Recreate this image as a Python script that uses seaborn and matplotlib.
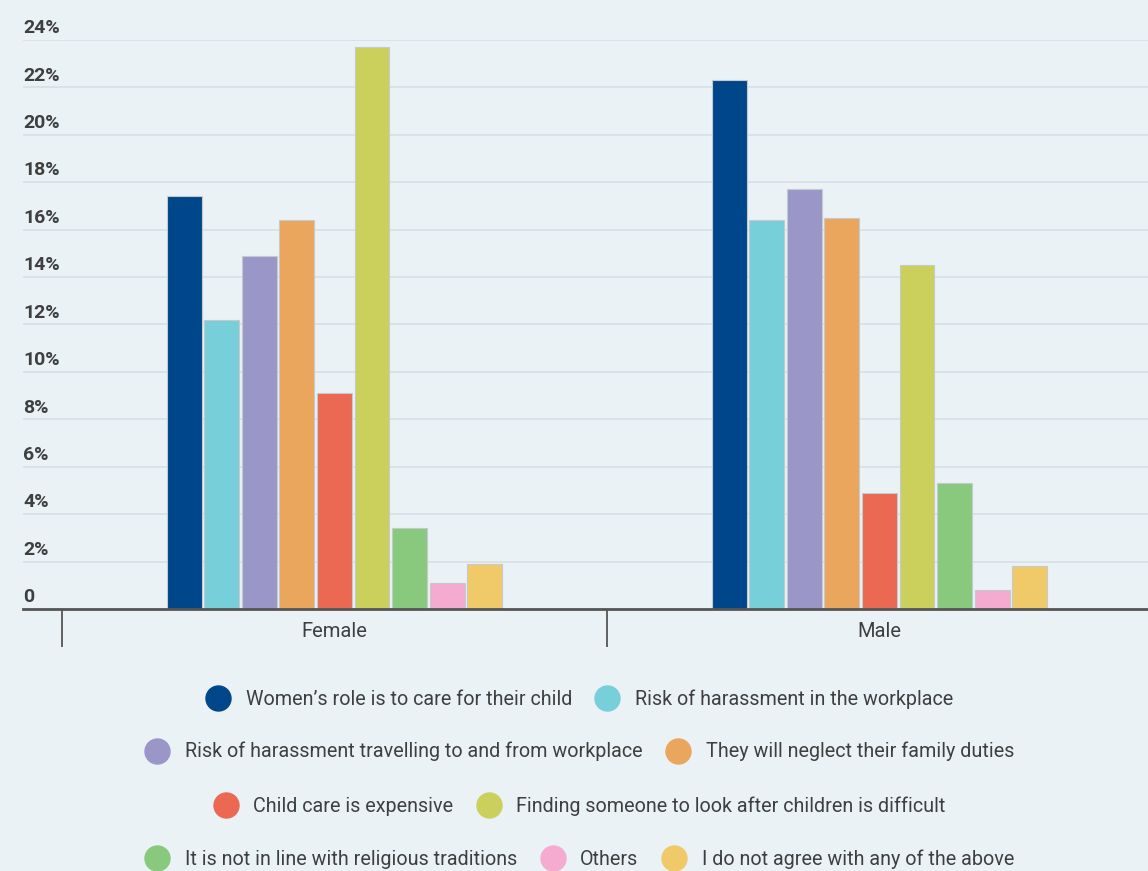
import matplotlib
matplotlib.use('Agg')
import matplotlib.pyplot as plt
from matplotlib.lines import Line2D
from matplotlib.transforms import ScaledTranslation
import pandas as pd
import seaborn as sns

genders = ['Female', 'Male']
reasons = ['Women\u2019s role is to care for their child',
           'Risk of harassment in the workplace',
           'Risk of harassment travelling to and from workplace',
           'They will neglect their family duties',
           'Child care is expensive',
           'Finding someone to look after children is difficult',
           'It is not in line with religious traditions',
           'Others',
           'I do not agree with any of the above']
female = [17.4, 12.2, 14.9, 16.4, 9.1, 23.7, 3.4, 1.1, 1.9]
male = [22.3, 16.4, 17.7, 16.5, 4.9, 14.5, 5.3, 0.8, 1.8]
colors = ['#00468B', '#77CFD9', '#9A96C8', '#EBA65D', '#EB6852',
          '#CBD05C', '#88C97E', '#F5ABD0', '#F0CA68']
yticks = [0, 2, 4, 6, 8, 10, 12, 14, 16, 18, 20, 22, 24]
legend_rows = [[0, 1], [2, 3], [4, 5], [6, 7, 8]]

bg = '#EAF2F6'
text_col = '#3F3F3F'

df = pd.DataFrame({
    'Gender': [g for g in genders for _ in reasons],
    'Reason': reasons * 2,
    'Share': female + male,
})

sns.set_theme(style='white')
plt.rcParams['font.family'] = ['Roboto', 'DejaVu Sans']

fig = plt.figure(figsize=(11.48, 8.71), dpi=100, facecolor=bg)
ax = fig.add_axes([0.02, 0.3008, 0.98, 0.6533])
ax.set_facecolor(bg)

sns.barplot(data=df, x='Gender', y='Share', hue='Reason', order=genders,
            hue_order=reasons, palette=colors, saturation=1, width=0.62, gap=0.07,
            edgecolor='#C4CACD', linewidth=0.8, legend=False, ax=ax)

ax.set_ylim(0, 24)
ax.set_xlim(-0.5716, 1.4927)
ax.set_xlabel('')
ax.set_ylabel('')

# y labels sit on top of the gridlines, left aligned
ax.set_yticks(yticks)
ax.set_yticklabels(['0' if t == 0 else f'{t}%' for t in yticks])
ax.tick_params(axis='y', length=0, pad=0, labelsize=14, labelcolor=text_col)
for lab in ax.get_yticklabels():
    lab.set_horizontalalignment('left')
    lab.set_verticalalignment('bottom')
    lab.set_fontweight('bold')
    lab.set_transform(lab.get_transform() + ScaledTranslation(0, 2 / 72, fig.dpi_scale_trans))
ax.yaxis.grid(True, color='#D6DFE3', linewidth=1.2)
ax.set_axisbelow(True)

# category separators
ax.set_xticks([-0.5, 0.5], minor=True)
ax.tick_params(axis='x', which='minor', bottom=True, length=27, width=1.3,
               color='#555555', direction='out')
ax.tick_params(axis='x', which='major', bottom=False, length=0, pad=9,
               labelsize=14.5, labelcolor=text_col)

for s in ['top', 'right', 'left']:
    ax.spines[s].set_visible(False)
ax.spines['bottom'].set_color('#555555')
ax.spines['bottom'].set_linewidth(2)

row_y = [0.1975, 0.137, 0.0746, 0.0138]
for row, y in zip(legend_rows, row_y):
    handles = [Line2D([], [], linestyle='none', marker='o', markersize=18,
                      markerfacecolor=colors[i], markeredgecolor=colors[i]) for i in row]
    leg = fig.legend(handles, [reasons[i] for i in row], loc='center',
                     bbox_to_anchor=(0.505, y), ncol=len(row), frameon=False,
                     fontsize=14.2, handlelength=1.2, handletextpad=0.8,
                     columnspacing=1.2, labelcolor=text_col)

plt.savefig('out.png', dpi=100, facecolor=bg)
plt.close()
